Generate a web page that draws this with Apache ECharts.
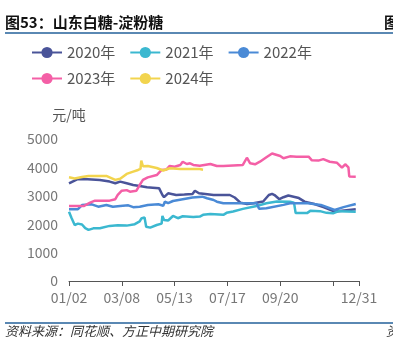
<!DOCTYPE html>
<html>
<head>
<meta charset="utf-8">
<script src="https://cdn.jsdelivr.net/npm/echarts@6/dist/echarts.min.js"></script>
<style>
  html, body { margin: 0; padding: 0; background: #fff; }
  #chart { width: 393px; height: 340px; }
</style>
</head>
<body>
<div id="chart"></div>
<script>
// Calendar days shown on the x axis (holiday gaps left out)
const skippedDays = ['04/05', '10/01', '10/02', '10/03', '10/04', '10/05'];
const tickLabels = ['01/02', '03/08', '05/13', '07/17', '09/20', '12/31'];
const tickDays = ['01/02', '03/08', '05/13', '07/17', '09/20', '11/29', '12/31'];

const seriesNames = ['2020年', '2021年', '2022年', '2023年', '2024年'];
const seriesColors = ['#4a5499', '#3bb8d0', '#4a8ad6', '#f45fa6', '#f2d44e'];

// Price spread, 元/吨
const s2020 = [['01/02',3440],['01/12',3580],['01/20',3590],['02/09',3560],['02/17',3520],['02/21',3500],['02/28',3440],['03/06',3500],['03/14',3440],['03/22',3380],['03/30',3345],['04/09',3300],['04/16',3285],['04/24',3263],['04/28',3028],['04/30',2950],['05/05',3088],['05/15',3028],['05/25',3045],['06/04',3063],['06/07',3180],['06/12',3088],['06/30',3028],['07/20',3028],['07/26',2940],['08/02',2760],['08/10',2711],['08/18',2740],['08/30',2800],['09/06',3028],['09/10',3070],['09/13',3028],['09/19',2880],['09/24',2950],['09/30',3010],['10/07',3028],['10/18',2920],['10/25',2793],['11/06',2711],['11/18',2594],['12/01',2441],['12/10',2470],['12/27',2524]];
const s2021 = [['01/02',2440],['01/05',2230],['01/09',1972],['01/13',2020],['01/18',1990],['01/22',1860],['01/26',1800],['02/01',1855],['02/09',1860],['02/21',1940],['03/03',1960],['03/14',1950],['03/24',2000],['03/30',2100],['04/01',2200],['04/06',2240],['04/08',1913],['04/13',1880],['04/21',1972],['04/27',2020],['04/28',2290],['04/30',2150],['05/05',2130],['05/11',2290],['05/17',2210],['05/23',2280],['06/05',2250],['06/13',2270],['06/17',2330],['06/26',2360],['07/12',2330],['07/16',2400],['07/24',2450],['08/05',2540],['08/22',2640],['09/03',2735],['09/16',2800],['10/07',2790],['10/12',2760],['10/14',2390],['10/28',2390],['11/01',2470],['11/13',2460],['11/21',2400],['11/29',2382],['12/06',2460],['12/27',2440]];
const s2022 = [['01/02',2530],['01/13',2530],['01/18',2676],['01/30',2700],['02/07',2617],['02/17',2676],['02/25',2617],['03/06',2641],['03/16',2664],['03/22',2600],['03/30',2617],['04/10',2676],['04/23',2700],['04/29',2650],['05/01',2793],['05/05',2740],['05/11',2817],['05/23',2880],['06/04',2940],['06/16',2970],['06/22',2912],['06/30',2852],['07/04',2793],['07/12',2735],['08/22',2735],['08/25',2540],['09/03',2560],['09/24',2680],['10/07',2735],['10/29',2735],['11/14',2680],['12/01',2500],['12/12',2600],['12/27',2711]];
const s2023 = [['01/02',2640],['01/20',2640],['01/28',2760],['02/03',2830],['02/21',2830],['02/28',2880],['03/03',3030],['03/08',3180],['03/14',3200],['03/18',3145],['03/26',3180],['03/30',3380],['04/03',3560],['04/10',3650],['04/21',3730],['04/27',3910],['05/03',3930],['05/07',4050],['05/13',4025],['05/20',4085],['05/23',4200],['05/28',4120],['06/01',4143],['06/05',4085],['06/13',4060],['06/26',4120],['07/04',4049],['07/12',4049],['08/05',4085],['08/10',4340],['08/14',4143],['08/20',4108],['08/26',4200],['09/03',4355],['09/10',4490],['09/20',4401],['09/24',4320],['10/07',4390],['10/15',4377],['10/30',4377],['11/03',4250],['11/11',4240],['11/17',4290],['11/25',4200],['12/04',4160],['12/10',3990],['12/14',4110],['12/18',4000],['12/19',3680],['12/27',3673]];
const s2024 = [['01/02',3650],['01/09',3610],['01/18',3660],['01/26',3700],['02/17',3700],['02/21',3650],['02/28',3560],['03/06',3600],['03/14',3770],['03/22',3850],['03/28',3910],['03/31',3950],['04/01',4240],['04/03',4040],['04/10',4050],['04/21',3980],['04/29',3890],['05/07',3970],['05/20',3940],['06/13',3940],['06/17',3920]];
const seriesData = [s2020, s2021, s2022, s2023, s2024];

const yTicks = { min: 0, max: 5000, interval: 1000 };

function pad(n) { return (n < 10 ? '0' : '') + n; }
const days = [];
for (let d = new Date(Date.UTC(2023, 0, 2)); d <= new Date(Date.UTC(2023, 11, 31)); d.setUTCDate(d.getUTCDate() + 1)) {
  const key = pad(d.getUTCMonth() + 1) + '/' + pad(d.getUTCDate());
  if (!skippedDays.includes(key)) days.push(key);
}

const cjk = '"Noto Sans CJK SC", "Noto Sans", sans-serif';
const legendBase = {
  left: 26, width: 360,
  itemWidth: 30, itemHeight: 14, itemGap: 14,
  textStyle: { fontSize: 15, color: '#555', fontFamily: cjk }
};

const chart = echarts.init(document.getElementById('chart'), null, { renderer: 'canvas' });

chart.setOption({
  animation: false,
  textStyle: { fontFamily: cjk },
  grid: { left: 69, right: 34, top: 139, bottom: 59, containLabel: false },
  legend: [
    Object.assign({ top: 40, data: seriesNames.slice(0, 3) }, legendBase),
    Object.assign({ top: 66, data: seriesNames.slice(3) }, legendBase)
  ],
  xAxis: {
    type: 'category',
    data: days,
    boundaryGap: false,
    axisLine: { lineStyle: { color: '#555', width: 1 } },
    axisTick: { length: 5, lineStyle: { color: '#555' }, interval: (i, v) => tickDays.includes(v) },
    axisLabel: { color: '#777', fontSize: 14, margin: 10, interval: (i, v) => tickLabels.includes(v), fontFamily: cjk },
    splitLine: { show: false }
  },
  yAxis: {
    type: 'value',
    min: yTicks.min, max: yTicks.max, interval: yTicks.interval,
    name: '元/吨', nameGap: 17,
    nameTextStyle: { color: '#555', fontSize: 14, fontFamily: cjk },
    axisLine: { show: false }, axisTick: { show: false },
    axisLabel: { color: '#777', fontSize: 14, margin: 11, fontFamily: cjk, formatter: v => String(v) },
    splitLine: { show: false }
  },
  series: seriesNames.map((name, i) => ({
    name: name,
    type: 'line',
    data: seriesData[i],
    symbol: 'circle',
    symbolSize: 12,
    showSymbol: false,
    color: seriesColors[i],
    lineStyle: { width: 2.5, color: seriesColors[i] }
  })),
  graphic: [
    { type: 'text', left: 5, top: 15, style: { text: '图53：山东白糖-淀粉糖', fill: '#111', font: 'bold 15px "Noto Sans CJK SC", sans-serif' } },
    { type: 'text', left: 384, top: 15, style: { text: '图', fill: '#111', font: 'bold 15px "Noto Sans CJK SC", sans-serif' } },
    { type: 'line', shape: { x1: 5, y1: 33, x2: 393, y2: 33 }, style: { stroke: '#23609a', lineWidth: 1.5 } },
    { type: 'line', shape: { x1: 5, y1: 323, x2: 393, y2: 323 }, style: { stroke: '#23609a', lineWidth: 1.5 } },
    { type: 'text', left: 5, top: 325, style: { text: '资料来源：同花顺、方正中期研究院', fill: '#333', font: 'italic 13px "Noto Sans CJK SC", sans-serif' } },
    { type: 'text', left: 386, top: 325, style: { text: '资', fill: '#333', font: 'italic 13px "Noto Sans CJK SC", sans-serif' } }
  ]
});
</script>
</body>
</html>
